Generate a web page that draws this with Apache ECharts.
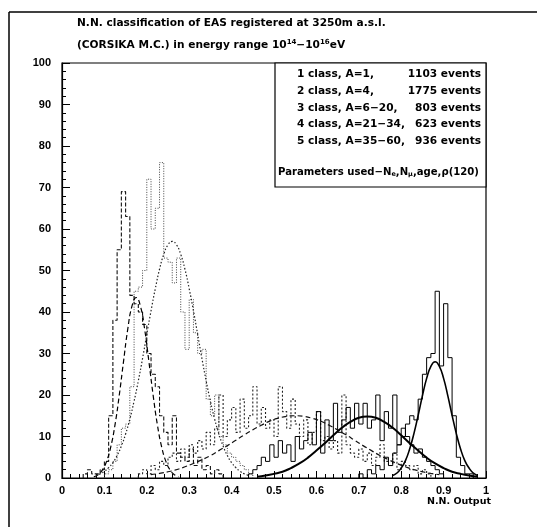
<!DOCTYPE html>
<html><head><meta charset="utf-8">
<script src="https://cdn.jsdelivr.net/npm/echarts@6/dist/echarts.min.js"></script>
<style>html,body{margin:0;padding:0;background:#fff}#c{width:537px;height:527px}</style>
</head><body><div id="c"></div>
<script>
// ---------- data ----------
const binWidth = 0.01;

// class 1 (A=1) histogram, bins from 0.70
const class1Start = 0.70;
const class1Counts = [1,0,2,1,3,2,5,3,6,8,10,13,15,14,19,25,29,30,45,27,42,29,15,5,3,1,1];
// class 2 (A=4), bins from 0.44
const class2Start = 0.44;
const class2Counts = [1,2,3,5,4,8,5,9,6,8,4,10,7,9,11,8,16,6,14,9,18,11,14,17,12,18,13,18,12,14,20,9,16,12,20,8,12,10,8,6,7,5,4,3,2,1];
// class 3 (A=6-20), bins from 0.18
const class3Start = 0.18;
const class3Counts = [1,2,1,3,2,4,3,5,6,4,7,5,8,6,9,7,11,8,12,20,10,14,17,11,19,12,15,22,13,17,12,14,10,22,16,12,19,13,10,14,8,11,16,9,10,7,9,6,20,8,6,5,7,4,6,3,5,8,4,3,6,2,4,3,2,3,1,2,1];
// class 4 (A=21-34), bins from 0.10
const class4Start = 0.10;
const class4Counts = [1,2,4,8,12,13,22,45,46,50,72,60,65,76,53,52,47,53,40,31,43,35,30,31,19,15,20,10,8,6,5,4,3,2,1];
// class 5 (A=35-60), bins from 0.05
const class5Start = 0.05;
const class5Counts = [1,2,1,1,2,4,15,38,55,69,63,44,42,40,37,30,25,22,15,11,8,15,6,5,4,7,3,5,2,3,1,2,1];

// fitted curves
const fit1X = [0.78,0.79,0.80,0.81,0.82,0.83,0.84,0.85,0.86,0.87,0.88,0.89,0.90,0.91,0.92,0.93,0.94,0.95,0.96,0.97,0.98];
const fit1Y = [0.6,1.2,2.4,4.2,7.0,10.7,15.1,19.8,24.0,26.9,28,26.9,24.0,19.8,15.1,10.7,7.0,4.2,2.4,1.2,0.6];
const fit2X = [0.46,0.48,0.50,0.52,0.54,0.56,0.58,0.60,0.62,0.64,0.66,0.68,0.70,0.72,0.74,0.76,0.78,0.80,0.82,0.84,0.86,0.88,0.90,0.92,0.94,0.96,0.98];
const fit2Y = [0.3,0.6,1.0,1.5,2.4,3.5,4.9,6.6,8.4,10.3,12.1,13.5,14.5,14.8,14.5,13.5,12.1,10.3,8.4,6.6,4.9,3.5,2.4,1.5,1.0,0.6,0.3];
const fit3X = [0.21,0.23,0.25,0.27,0.29,0.31,0.33,0.35,0.37,0.39,0.41,0.43,0.45,0.47,0.49,0.51,0.53,0.55,0.57,0.59,0.61,0.63,0.65,0.67,0.69,0.71,0.73,0.75,0.77,0.79,0.81,0.83,0.85,0.87,0.89];
const fit3Y = [0.8,1.1,1.5,2.0,2.7,3.5,4.4,5.4,6.6,7.8,9.1,10.4,11.6,12.7,13.7,14.4,14.85,15,14.85,14.4,13.7,12.7,11.6,10.4,9.1,7.8,6.6,5.4,4.4,3.5,2.7,2.0,1.5,1.1,0.8];
const fit4X = [0.08,0.09,0.10,0.11,0.12,0.13,0.14,0.15,0.16,0.17,0.18,0.19,0.20,0.21,0.22,0.23,0.24,0.25,0.26,0.27,0.28,0.29,0.30,0.31,0.32,0.33,0.34,0.35,0.36,0.37,0.38,0.39,0.40,0.41,0.42,0.43,0.44];
const fit4Y = [0.6,1.0,1.6,2.5,3.7,5.4,7.7,10.6,14.2,18.5,23.4,28.8,34.6,40.3,45.6,50.3,53.9,56.2,57,56.2,53.9,50.3,45.6,40.3,34.6,28.8,23.4,18.5,14.2,10.6,7.7,5.4,3.7,2.5,1.6,1.0,0.6];
const fit5X = [0.075,0.085,0.095,0.105,0.115,0.125,0.135,0.145,0.155,0.165,0.175,0.185,0.195,0.205,0.215,0.225,0.235,0.245,0.255,0.265,0.275];
const fit5Y = [0.3,0.8,1.9,4.0,7.5,12.8,19.9,28.0,35.8,41.4,43.5,41.4,35.8,28.0,19.9,12.8,7.5,4.0,1.9,0.8,0.3];

const legendRows = [
  ['1 class, A=1,', '1103 events'],
  ['2 class, A=4,', '1775 events'],
  ['3 class, A=6\u221220,', '803 events'],
  ['4 class, A=21\u221234,', '623 events'],
  ['5 class, A=35\u221260,', '936 events']
];

// ---------- build ----------
function r3(v){ return Math.round(v*1000)/1000; }
function histData(start, counts){
  const d = [[r3(start), 0]];
  counts.forEach((c, i) => d.push([r3(start + i*binWidth), c]));
  const end = r3(start + counts.length*binWidth);
  d.push([end, counts[counts.length-1]]);
  d.push([end, 0]);
  return d;
}
function pairs(xs, ys){ return xs.map((x, i) => [x, ys[i]]); }

const AXFONT = 'Liberation Sans';
const TXFONT = 'DejaVu Sans';
const TXT = 'bold 10.6px "' + TXFONT + '"';
function histSeries(start, counts, type, width, color){
  return {type:'line', step:'end', symbol:'none', silent:true, animation:false,
    data: histData(start, counts), lineStyle:{color:color, width:width, type:type}};
}
function fitSeries(xs, ys, type, width, color){
  return {type:'line', smooth:true, symbol:'none', silent:true, animation:false,
    data: pairs(xs, ys), lineStyle:{color:color, width:width, type:type}};
}

const chart = echarts.init(document.getElementById('c'), null, {renderer:'canvas'});

const legendGraphics = [];
const rowY = [74, 91, 108, 124, 141];
legendRows.forEach((row, i) => {
  legendGraphics.push({type:'text', x:297, y:rowY[i], z:11,
    style:{text:row[0], font:TXT, fill:'#000', textVerticalAlign:'middle', verticalAlign:'middle'}});
  legendGraphics.push({type:'text', x:481, y:rowY[i], z:11,
    style:{text:row[1], font:TXT, fill:'#000', align:'right', textAlign:'right', verticalAlign:'middle', textVerticalAlign:'middle'}});
});

chart.setOption({
  backgroundColor:'#fff',
  animation:false,
  grid:{left:62, top:63, width:424, height:415, show:true, borderColor:'#000', borderWidth:1.2, backgroundColor:'transparent'},
  xAxis:{type:'value', min:0, max:1, interval:0.1,
    axisLine:{show:true, onZero:false, lineStyle:{color:'#000', width:1.2}},
    axisTick:{show:true, inside:true, length:7, lineStyle:{color:'#000', width:1}},
    minorTick:{show:true, splitNumber:5, length:4, lineStyle:{color:'#000', width:1}},
    splitLine:{show:false},
    axisLabel:{color:'#000', fontFamily:AXFONT, fontSize:11, fontWeight:'bold', margin:7,
      formatter: v => (Math.abs(v) < 1e-9 ? '0' : (Math.abs(v-1) < 1e-9 ? '1' : v.toFixed(1)))}
  },
  yAxis:{type:'value', min:0, max:100, interval:10,
    axisLine:{show:true, lineStyle:{color:'#000', width:1.2}},
    axisTick:{show:true, inside:true, length:8, lineStyle:{color:'#000', width:1}},
    minorTick:{show:true, splitNumber:5, length:4, lineStyle:{color:'#000', width:1}},
    splitLine:{show:false},
    axisLabel:{color:'#000', fontFamily:AXFONT, fontSize:11, fontWeight:'bold', margin:11}
  },
  series:[
    histSeries(class5Start, class5Counts, [4,2], 1.1, '#111'),
    histSeries(class4Start, class4Counts, [1,1.5], 1, '#444'),
    histSeries(class3Start, class3Counts, [2,2], 1.1, '#222'),
    histSeries(class2Start, class2Counts, 'solid', 1, '#000'),
    histSeries(class1Start, class1Counts, 'solid', 1, '#000'),
    fitSeries(fit5X, fit5Y, [5,3], 1.2, '#000'),
    fitSeries(fit4X, fit4Y, [1.5,2], 1.2, '#222'),
    fitSeries(fit3X, fit3Y, [5,3], 1.2, '#111'),
    fitSeries(fit2X, fit2Y, 'solid', 2, '#000'),
    fitSeries(fit1X, fit1Y, 'solid', 1.6, '#000')
  ],
  graphic:[
    {type:'line', shape:{x1:9, y1:12, x2:537, y2:12}, style:{stroke:'#000', lineWidth:1.5}},
    {type:'line', shape:{x1:9, y1:12, x2:9, y2:527}, style:{stroke:'#000', lineWidth:1.5}},
    {type:'text', x:77, y:23,
      style:{text:'N.N. classification of EAS registered at 3250m a.s.l.', font:TXT, fill:'#000', verticalAlign:'middle', textVerticalAlign:'middle'}},
    {type:'text', x:77, y:45,
      style:{text:'(CORSIKA M.C.) in energy range 10{sup|14}\u221210{sup|16}eV', font:TXT, fill:'#000', verticalAlign:'middle', textVerticalAlign:'middle',
        rich:{sup:{fontSize:7, fontWeight:'bold', fontFamily:TXFONT, verticalAlign:'top', padding:[0,0,6,0]}}}},
    {type:'rect', shape:{x:275, y:63, width:211, height:124}, style:{fill:'#fff', stroke:'#000', lineWidth:1.2}, z:10},
    ...legendGraphics,
    {type:'text', x:278, y:172, z:11,
      style:{text:'Parameters used\u2212N{sub|e},N{sub|\u03bc},age,\u03c1(120)', font:'bold 10.1px "' + TXFONT + '"', fill:'#000', verticalAlign:'middle', textVerticalAlign:'middle',
        rich:{sub:{fontSize:6.5, fontWeight:'bold', fontFamily:TXFONT, verticalAlign:'bottom', padding:[5,0,0,0]}}}},
    {type:'text', x:459, y:502,
      style:{text:'N.N. Output', font:'bold 9.5px "' + TXFONT + '"', fill:'#000', align:'center', textAlign:'center', verticalAlign:'middle', textVerticalAlign:'middle'}}
  ]
});
</script></body></html>
